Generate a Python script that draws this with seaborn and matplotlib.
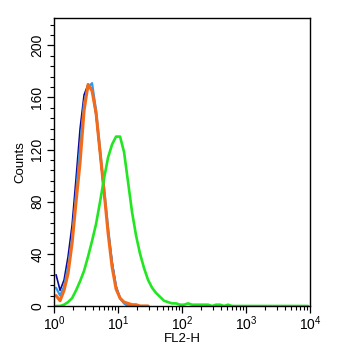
import numpy as np
import pandas as pd
import seaborn as sns
import matplotlib.pyplot as plt
from matplotlib.ticker import MultipleLocator, LogLocator, NullFormatter

# histogram channels: 1/16 decade bins on a log axis, 10^0 .. 10^4
bin_edges = 10 ** (np.arange(65) / 16)
bin_centers = 10 ** ((np.arange(64) + 0.5) / 16)

navy_counts = [24, 12, 20, 38, 62, 98, 136, 162, 170, 166, 146, 116, 86, 58, 34, 15,
               6, 2, 0, 0, 0, 0, 0, 0]
lightblue_counts = [14, 8, 15, 30, 52, 86, 122, 156, 168, 171, 150, 120, 90, 60, 33, 15,
                    6, 2, 0, 0, 0, 0, 0, 0]
orange_counts = [8, 4, 12, 25, 48, 80, 110, 150, 170, 165, 148, 118, 88, 56, 30, 13,
                 6, 3, 2, 1, 1, 0, 0, 0]
green_counts = [0, 0, 1, 3, 6, 12, 19, 27, 38, 50, 63, 80, 98, 114, 124, 130,
                130, 118, 95, 72, 54, 40, 29, 20, 14, 10, 7, 4, 3, 2, 2, 1,
                1, 2, 1, 1, 1, 1, 1, 0, 1, 1, 0, 1, 0, 0, 0, 0,
                0, 0, 0, 0, 0, 0, 0, 0, 0, 0, 0, 0, 0, 0, 0, 0]

series = [
    ('navy', navy_counts, '#0a0a9a', 1.2),
    ('lightblue', lightblue_counts, '#2e9bf0', 1.6),
    ('orange', orange_counts, '#f26b1d', 2.2),
    ('green', green_counts, '#22e622', 1.9),
]

sns.set_style('ticks')
plt.rcParams['font.family'] = ['Liberation Sans', 'DejaVu Sans']
plt.rcParams['mathtext.default'] = 'regular'

fig = plt.figure(figsize=(3.51, 3.61), dpi=100)
ax = fig.add_axes([54 / 351, (361 - 306) / 361, (310 - 54) / 351, (306 - 18) / 361])

for name, counts, col, lw in series:
    n = len(counts)
    df = pd.DataFrame({'x': bin_centers[:n], 'w': counts})
    sns.histplot(data=df, x='x', weights='w', bins=list(bin_edges[:n + 1]), element='poly',
                 fill=False, color=col, linewidth=lw, ax=ax)

ax.set_xscale('log')
ax.set_xlim(1, 1e4)
ax.set_ylim(0, 221)
ax.yaxis.set_major_locator(MultipleLocator(40))
ax.yaxis.set_minor_locator(MultipleLocator(8))
ax.xaxis.set_major_locator(LogLocator(base=10, numticks=10))
ax.xaxis.set_minor_locator(LogLocator(base=10, subs=np.arange(2, 10), numticks=20))
ax.xaxis.set_minor_formatter(NullFormatter())

for lab in ax.get_yticklabels():
    lab.set_rotation(90)
    lab.set_va('center')
ax.tick_params(axis='both', which='major', direction='out', length=5, width=0.9,
               labelsize=10, pad=2, colors='black')
ax.tick_params(axis='both', which='minor', direction='out', length=3, width=0.8,
               colors='black')
ax.tick_params(axis='x', labelsize=10, pad=1)

for sp in ax.spines.values():
    sp.set_linewidth(1.0)
    sp.set_color('black')

ax.set_xlabel('FL2-H', fontsize=9.5, labelpad=0, color='black')
ax.set_ylabel('Counts', fontsize=9.5, labelpad=3, color='black')

fig.savefig('out.png', dpi=100)
